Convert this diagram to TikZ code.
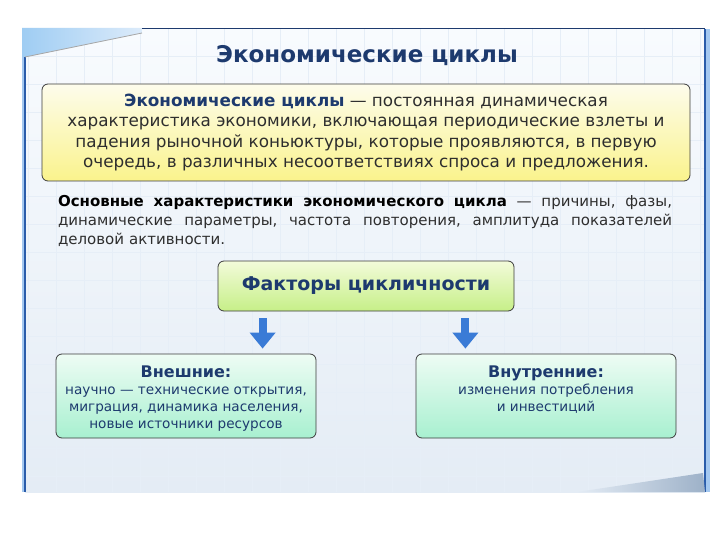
\documentclass[tikz,border=0pt]{standalone}
\usepackage{fontspec}
\setmainfont{DejaVu Sans}
\usetikzlibrary{arrows.meta,positioning}
\definecolor{navy}{HTML}{1D3A6E}
\definecolor{txt}{HTML}{2E2E2E}
\definecolor{rim}{HTML}{3C3C3C}
\definecolor{frameblue}{HTML}{2A5CAA}
\definecolor{framelight}{HTML}{A4C8F0}
\definecolor{arrblue}{HTML}{3A7BD6}
\definecolor{bgtop}{HTML}{F8FBFE}
\definecolor{bgbot}{HTML}{E4ECF5}
\definecolor{gridc}{HTML}{E6EEF7}
\definecolor{yeltop}{HTML}{FDFCEC}
\definecolor{yelbot}{HTML}{FAF38C}
\definecolor{limetop}{HTML}{F3FBDA}
\definecolor{limebot}{HTML}{C6EF88}
\definecolor{minttop}{HTML}{EEFCF4}
\definecolor{mintbot}{HTML}{A8F0D0}
\definecolor{wedgeA}{HTML}{9FCDF3}
\definecolor{wedgeB}{HTML}{DCEBFA}
\definecolor{wedgeC}{HTML}{9DB1C8}
\tikzstyle{box}=[draw=rim, line width=0.8pt, rounded corners=6pt]
\tikzstyle{defbox}=[box, minimum width=648pt, minimum height=97pt, align=center, text=txt,
  top color=yeltop, bottom color=yelbot, font=\fontsize{16.8}{20.5}\selectfont]
\tikzstyle{factbox}=[box, minimum width=296pt, minimum height=50pt, text=navy,
  top color=limetop, bottom color=limebot, font=\bfseries\fontsize{19}{22}\selectfont]
\tikzstyle{kindbox}=[box, minimum width=260pt, minimum height=84pt,
  top color=minttop, bottom color=mintbot]
\tikzstyle{kindtext}=[align=center, text=navy, font=\fontsize{13.6}{17}\selectfont, inner sep=0pt]
\tikzstyle{post}=[-{Triangle[width=25pt,length=16pt]}, line width=8pt, draw=arrblue,
  shorten <=7pt, shorten >=5pt]

\begin{document}
\begin{tikzpicture}[x=1pt,y=-1pt,node distance=12pt]
  \useasboundingbox (0,0) rectangle (720,540);
  % slide frame
  \fill[white] (0,0) rectangle (720,540);
  \shade[top color=bgtop, bottom color=bgbot] (25,29) rectangle (705,492);
  \draw[gridc, line width=0.6pt] (25,29) grid[step=28pt] (705,492);
  \fill[framelight] (22,57) rectangle (25,492);
  \fill[framelight] (705,29) rectangle (710,492);
  \draw[frameblue, line width=1.2pt] (25,57) -- (25,492);
  \draw[navy, line width=1pt] (142,29) -- (705,29);
  \draw[frameblue, line width=1.2pt] (705,29) -- (705,492);
  \shade[left color=wedgeA, right color=wedgeB] (22,28) -- (142,28) -- (142,33) -- (25,57) -- (22,57) -- cycle;
  \draw[gray!70, line width=0.8pt] (142,33) -- (25,57);
  \shade[left color=bgbot, right color=wedgeC] (577,492) -- (703,473) -- (705,492) -- cycle;

  \node (T) at (367,56) {\textcolor{navy}{\bfseries\fontsize{23}{26}\selectfont Экономические циклы}};

  \node (D) [defbox] at (366,132.5) {%
    \textcolor{navy}{\bfseries Экономические циклы} — постоянная динамическая\\
    характеристика экономики, включающая периодические взлеты и\\
    падения рыночной коньюктуры, которые проявляются, в первую\\
    очередь, в различных несоответствиях спроса и предложения.};

  \node (C) [text width=614pt, align=left, inner sep=0pt, text=txt,
    font=\fontsize{15}{19}\selectfont] at (365,221) {%
    \makebox[614pt][l]{\textcolor{black}{\bfseries Основные\hfill характеристики\hfill экономического\hfill цикла}\hfill —\hfill причины,\hfill фазы,}\\
    \makebox[614pt][l]{динамические\hfill параметры,\hfill частота\hfill повторения,\hfill амплитуда\hfill показателей}\\
    деловой активности.};

  \node (F) [factbox] at (366,286) {Факторы цикличности};

  \node (E) [kindbox] at (186,396) {};
  \node (I) [kindbox] at (546,396) {};
  \node (Et) [kindtext, below=of E.north] {{\bfseries\fontsize{16}{17}\selectfont Внешние:}\\
    научно — технические открытия,\\
    миграция, динамика населения,\\
    новые источники ресурсов};
  \node (It) [kindtext, below=of I.north] {{\bfseries\fontsize{16}{17}\selectfont Внутренние:}\\
    изменения потребления\\
    и инвестиций};

  \draw[post] ([xshift=45pt]F.south west) -- ([xshift=45pt]F.south west |- E.north);
  \draw[post] ([xshift=-49pt]F.south east) -- ([xshift=-49pt]F.south east |- I.north);
\end{tikzpicture}
\end{document}
